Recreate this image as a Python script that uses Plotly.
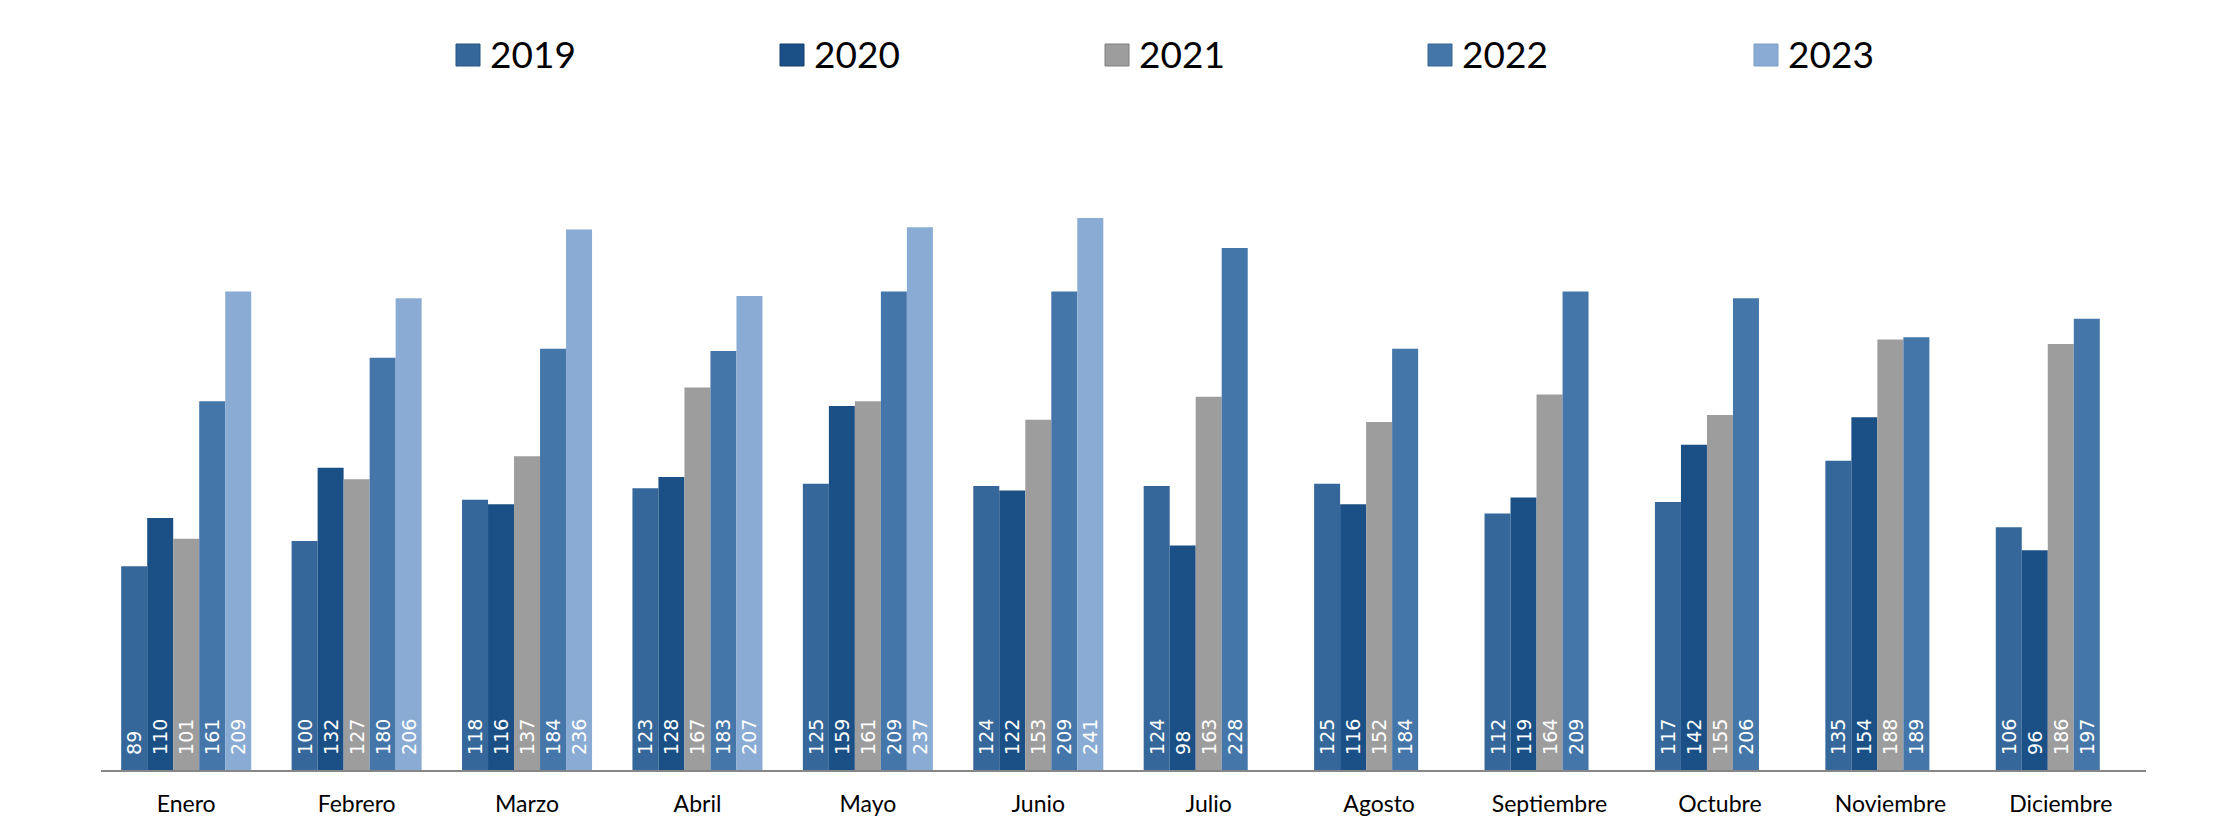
import plotly.graph_objects as go

months = ["Enero", "Febrero", "Marzo", "Abril", "Mayo", "Junio", "Julio",
          "Agosto", "Septiembre", "Octubre", "Noviembre", "Diciembre"]
years = ["2019", "2020", "2021", "2022", "2023"]

v2019 = [89, 100, 118, 123, 125, 124, 124, 125, 112, 117, 135, 106]
v2020 = [110, 132, 116, 128, 159, 122, 98, 116, 119, 142, 154, 96]
v2021 = [101, 127, 137, 167, 161, 153, 163, 152, 164, 155, 188, 186]
v2022 = [161, 180, 184, 183, 209, 209, 228, 184, 209, 206, 189, 197]
v2023 = [209, 206, 236, 207, 237, 241, None, None, None, None, None, None]

series = [v2019, v2020, v2021, v2022, v2023]
colors = ["#35679A", "#1B5086", "#9D9D9D", "#4576A9", "#8AACD4"]
borders = ["#2A5482", "#143F6C", "#7F7F7F", "#3A6591", "#7C9DC4"]

W, H = 2230, 840
L, R, T, B = 93, 92, 75, 78

fig = go.Figure()
for name, vals, col in zip(years, series, colors):
    fig.add_trace(go.Bar(
        x=months, y=vals, name=name, marker=dict(color=col, line=dict(width=0)),
        texttemplate="\u00a0\u00a0%{y}", textposition="inside",
        insidetextanchor="start", textangle=-90, constraintext="none",
        textfont=dict(family="DejaVu Sans", size=19, color="white"),
        showlegend=False, hoverinfo="x+y+name",
    ))

# manual legend (large square swatches like the reference)
pw, ph = W - L - R, H - T - B
def px2x(px):
    return (px - L) / pw
def py2y(py):
    return (H - B - py) / ph

leg_x = [448, 772, 1097, 1420, 1746]
shapes, annos = [], []
for name, col, bc, lx in zip(years, colors, borders, leg_x):
    shapes.append(dict(type="rect", xref="paper", yref="paper",
                       x0=px2x(lx), x1=px2x(lx + 24), y0=py2y(58), y1=py2y(36),
                       fillcolor=col, line=dict(color=bc, width=1)))
    annos.append(dict(xref="paper", yref="paper", x=px2x(lx + 32), y=py2y(46),
                      text=name, showarrow=False, xanchor="left", yanchor="middle",
                      font=dict(family="Lato", size=37, color="black")))

fig.update_layout(
    width=W, height=H,
    margin=dict(l=L, r=R, t=T, b=B),
    paper_bgcolor="white", plot_bgcolor="white",
    barmode="group", bargap=0.237, bargroupgap=0,
    shapes=shapes, annotations=annos,
    xaxis=dict(showline=True, linecolor="#868686", linewidth=2, ticks="",
               tickfont=dict(family="Lato", size=23, color="black"),
               ticklabelstandoff=12, showgrid=False, zeroline=False),
    yaxis=dict(range=[0, 300], visible=False, showgrid=False, zeroline=False),
)

fig.write_html("out.html")
